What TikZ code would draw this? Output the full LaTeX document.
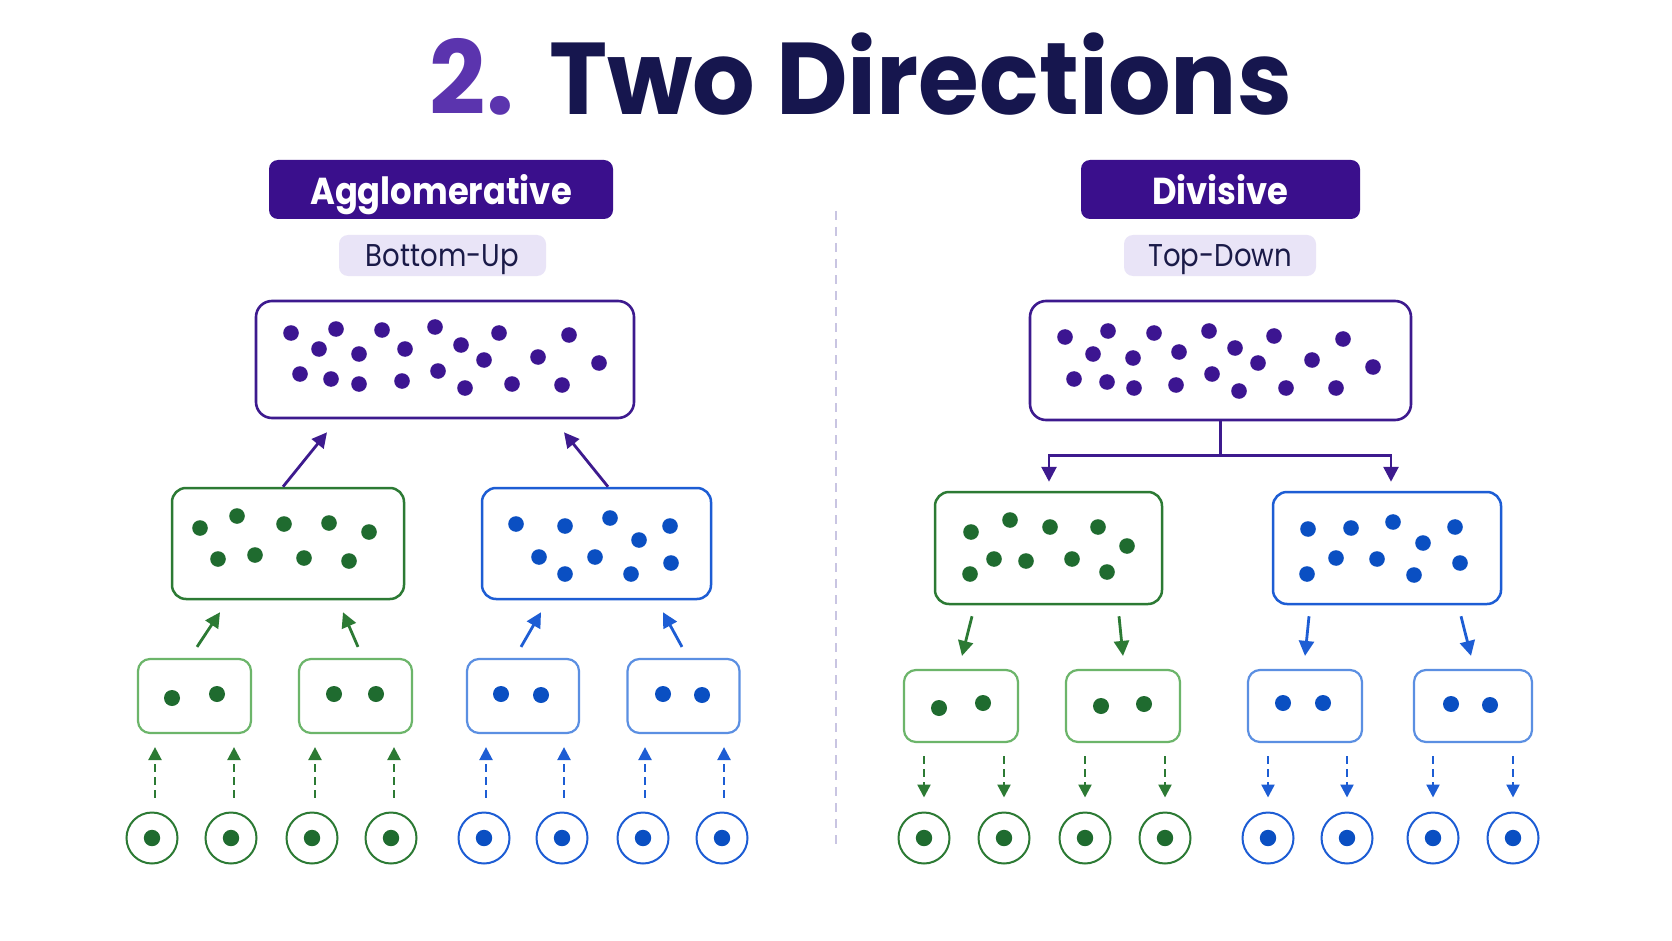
\documentclass[tikz,border=0pt]{standalone}
\usepackage{fontspec}
\usepackage{graphicx}
\setmainfont{Poppins}
\usetikzlibrary{arrows.meta,calc}
\definecolor{navy}{HTML}{16164E}
\definecolor{numpurple}{HTML}{5B34AE}
\definecolor{hdr}{HTML}{3A0F8C}
\definecolor{subfill}{HTML}{E9E4F7}
\definecolor{subtext}{HTML}{1A1A48}
\definecolor{pdot}{HTML}{3C1591}
\definecolor{pline}{HTML}{3D1A8E}
\definecolor{gdot}{HTML}{1F6B2F}
\definecolor{gline}{HTML}{2C7A34}
\definecolor{glight}{HTML}{6CB56A}
\definecolor{bdot}{HTML}{0A4FC2}
\definecolor{bline}{HTML}{1D5DD4}
\definecolor{blight}{HTML}{5B8FE2}
\definecolor{sepcol}{HTML}{C9C5E2}
\newcommand{\hdrtext}[1]{\scalebox{0.9}[1]{#1}}
\newcommand{\subtext}[1]{\scalebox{0.875}[1]{#1}}
\begin{document}
\begin{tikzpicture}[x=1pt,y=-1pt,
  hdrbox/.style={fill=hdr, rounded corners=9pt, text=white, font=\fontsize{37.5}{37.5}\selectfont\bfseries, inner sep=0pt, text height=31pt, text depth=0pt, minimum height=59pt},
  subbox/.style={fill=subfill, rounded corners=9pt, text=subtext, font=\fontsize{31.5}{31.5}\selectfont, inner sep=0pt, text height=22.5pt, text depth=0pt, minimum height=41pt},
  bigbox/.style={draw=pline, line width=2.6pt, rounded corners=16pt, inner sep=0pt},
  midg/.style={draw=gline, line width=2.5pt, rounded corners=14pt, inner sep=0pt, minimum height=111pt},
  midb/.style={draw=bline, line width=2.5pt, rounded corners=14pt, inner sep=0pt, minimum height=111pt},
  smallg/.style={draw=glight, line width=2.2pt, rounded corners=12pt, inner sep=0pt, minimum width=113pt, minimum height=74pt},
  smallb/.style={draw=blight, line width=2.2pt, rounded corners=12pt, inner sep=0pt, minimum width=112pt, minimum height=74pt},
  leafg/.style={circle, draw=gline, line width=2pt, minimum size=51pt, inner sep=0pt},
  leafb/.style={circle, draw=bline, line width=2pt, minimum size=51pt, inner sep=0pt},
  sarrow/.style={line width=2.8pt, -{Triangle[length=15pt,width=15pt]}},
  darrow/.style={line width=2.4pt, dash pattern=on 8pt off 5pt, -{Triangle[length=13pt,width=13pt]}},
]
\useasboundingbox (0,0) rectangle (1672,941);
\fill[white] (0,0) rectangle (1672,941);

% title
\node[anchor=base, font=\fontsize{102}{102}\selectfont\bfseries, text=navy, inner sep=0pt] (title) at (861,115) {\scalebox{0.965}[1]{\textcolor{numpurple}{2.}\hspace{0.36em}Two Directions}};

% headers
\node[hdrbox, minimum width=344pt] (agg) at (441,189.5) {\hdrtext{Agglomerative}};
\node[subbox, minimum width=207pt] (bu) at (442.5,255.5) {\subtext{Bottom-Up}};
\node[hdrbox, minimum width=279pt] (div) at (1220.5,189.5) {\hdrtext{Divisive}};
\node[subbox, minimum width=192pt] (td) at (1220,255.5) {\subtext{Top-Down}};

% separator
\coordinate (septop) at (836,211);
\coordinate (sepbot) at (836,850);
\draw[sepcol, line width=1.8pt, dash pattern=on 9pt off 7pt] (septop) -- (sepbot);

% ===== LEFT (agglomerative) =====
\node[bigbox, minimum width=378pt, minimum height=117pt] (topL) at (445,359.5) {};
\foreach \x/\y in {291/333,336/329,382/330,435/327,499/333,569/335,319/349,359/354,405/349,461/345,484/360,538/357,599/363,300/374,331/379,359/384,402/381,438/371,465/388,512/384,562/385}
  \fill[pdot] (\x,\y) circle (7.8pt);

\node[midg, minimum width=232pt] (midLG) at (288,543.5) {};
\node[midb, minimum width=229pt] (midLB) at (596.5,543.5) {};
\foreach \x/\y in {200/528,237/516,284/524,329/523,369/532,218/559,255/555,304/558,349/561}
  \fill[gdot] (\x,\y) circle (7.8pt);
\foreach \x/\y in {516/524,565/526,610/518,670/526,639/540,539/557,595/557,671/563,565/574,631/574}
  \fill[bdot] (\x,\y) circle (7.8pt);

\node[smallg] (sLG1) at (194.5,696) {};
\node[smallg] (sLG2) at (355.5,696) {};
\node[smallb] (sLB1) at (523,696) {};
\node[smallb] (sLB2) at (683.5,696) {};
\foreach \x/\y in {172/698,217/694,334/694,376/694}
  \fill[gdot] (\x,\y) circle (8pt);
\foreach \x/\y in {501/694,541/695,663/694,702/695}
  \fill[bdot] (\x,\y) circle (8pt);

\foreach \i/\x in {1/152,2/231,3/312,4/391}
  {\node[leafg] (lLG\i) at (\x,838) {}; \fill[gdot] (lLG\i) circle (8.2pt);}
\foreach \i/\x in {1/484,2/562,3/643,4/722}
  {\node[leafb] (lLB\i) at (\x,838) {}; \fill[bdot] (lLB\i) circle (8.2pt);}

% arrows left
\draw[sarrow, pline] ($(midLG.north)+(-5,0)$) -- ($(topL.south)+(-118,13)$);
\draw[sarrow, pline] ($(midLB.north)+(11.5,0)$) -- ($(topL.south)+(119,13)$);
\draw[sarrow, gline] ($(sLG1.north)+(2.5,-11)$) -- ($(midLG.south)+(-68,12)$);
\draw[sarrow, gline] ($(sLG2.north)+(2.5,-11)$) -- ($(midLG.south)+(55,12)$);
\draw[sarrow, bline] ($(sLB1.north)+(-2,-11)$) -- ($(midLB.south)+(-55.5,12)$);
\draw[sarrow, bline] ($(sLB2.north)+(-1.5,-11)$) -- ($(midLB.south)+(66.5,12)$);
\foreach \i/\b in {1/sLG1,2/sLG1,3/sLG2,4/sLG2}
  \draw[darrow, gline] ($(lLG\i.north)+(3,-14)$) -- ($(lLG\i.north |- \b.south)+(3,13)$);
\foreach \i/\b in {1/sLB1,2/sLB1,3/sLB2,4/sLB2}
  \draw[darrow, bline] ($(lLB\i.north)+(2,-14)$) -- ($(lLB\i.north |- \b.south)+(2,13)$);

% ===== RIGHT (divisive) =====
\node[bigbox, minimum width=381pt, minimum height=119pt] (topR) at (1220.5,360.5) {};
\foreach \x/\y in {1065/337,1108/331,1154/333,1209/331,1274/336,1343/339,1093/354,1133/358,1179/352,1235/348,1258/363,1312/360,1373/367,1074/379,1107/382,1134/388,1176/385,1212/374,1239/391,1286/388,1336/388}
  \fill[pdot] (\x,\y) circle (7.8pt);

\node[midg, minimum width=227pt, minimum height=112pt] (midRG) at (1048.5,548) {};
\node[midb, minimum width=228pt, minimum height=112pt] (midRB) at (1387,548) {};
\foreach \x/\y in {971/532,1010/520,1050/527,1098/527,1127/546,994/559,1026/561,1072/559,970/574,1107/572}
  \fill[gdot] (\x,\y) circle (7.8pt);
\foreach \x/\y in {1308/529,1351/528,1393/522,1455/527,1423/543,1336/558,1377/559,1460/563,1307/574,1414/575}
  \fill[bdot] (\x,\y) circle (7.8pt);

\node[smallg, minimum width=114pt, minimum height=72pt] (sRG1) at (961,706) {};
\node[smallg, minimum width=114pt, minimum height=72pt] (sRG2) at (1123,706) {};
\node[smallb, minimum width=114pt, minimum height=72pt] (sRB1) at (1305,706) {};
\node[smallb, minimum width=118pt, minimum height=72pt] (sRB2) at (1473,706) {};
\foreach \x/\y in {939/708,983/703,1101/706,1144/704}
  \fill[gdot] (\x,\y) circle (8pt);
\foreach \x/\y in {1283/703,1323/703,1451/704,1490/705}
  \fill[bdot] (\x,\y) circle (8pt);

\foreach \i/\x in {1/924,2/1004,3/1085,4/1165}
  {\node[leafg] (lRG\i) at (\x,838) {}; \fill[gdot] (lRG\i) circle (8.2pt);}
\foreach \i/\x in {1/1268,2/1347,3/1433,4/1513}
  {\node[leafb] (lRB\i) at (\x,838) {}; \fill[bdot] (lRB\i) circle (8.2pt);}

% arrows right
\coordinate (jn) at ($(topR.south)+(0,34)$);
\draw[pline, line width=2.8pt] (topR.south) -- (jn);
\draw[sarrow, pline, shorten >=9pt] (jn) -| ($(midRG.north)+(0.5,0)$);
\draw[sarrow, pline, shorten >=9pt] (jn) -| ($(midRB.north)+(4,0)$);
\draw[sarrow, gline] ($(midRG.south)+(-76.5,11)$) -- ($(sRG1.north)+(1,-13)$);
\draw[sarrow, gline] ($(midRG.south)+(70.5,11)$) -- ($(sRG2.north)+(0,-13)$);
\draw[sarrow, bline] ($(midRB.south)+(-78,11)$) -- ($(sRB1.north)+(0,-13)$);
\draw[sarrow, bline] ($(midRB.south)+(74,11)$) -- ($(sRB2.north)+(-2,-13)$);
\foreach \i/\b in {1/sRG1,2/sRG1,3/sRG2,4/sRG2}
  \draw[darrow, gline] ($(lRG\i.north |- \b.south)+(0,13)$) -- ($(lRG\i.north)+(0,-14)$);
\foreach \i/\b in {1/sRB1,2/sRB1,3/sRB2,4/sRB2}
  \draw[darrow, bline] ($(lRB\i.north |- \b.south)+(0,13)$) -- ($(lRB\i.north)+(0,-14)$);
\end{tikzpicture}
\end{document}
